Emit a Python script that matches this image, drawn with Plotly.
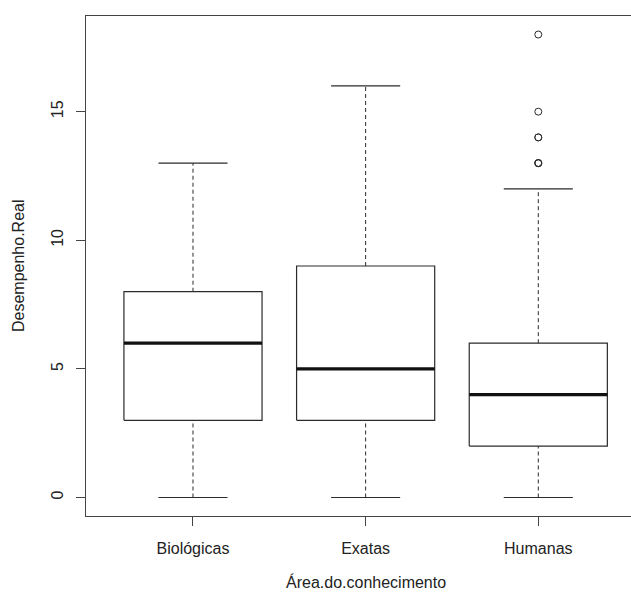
import plotly.graph_objects as go

categories = ["Biológicas", "Exatas", "Humanas"]
lower_whisker = [0, 0, 0]
q1 = [3, 3, 2]
median = [6, 5, 4]
q3 = [8, 9, 6]
upper_whisker = [13, 16, 12]
outliers = {"Humanas": [13, 13, 13, 14, 14, 15, 18]}
y_ticks = [0, 5, 10, 15]

BOX_HALF = 0.4
CAP_HALF = 0.2
LINE = "#2b2b2b"
FONT = "Liberation Sans, Arial, Helvetica, sans-serif"

fig = go.Figure()
for i, cat in enumerate(categories):
    x = i + 1
    # box
    fig.add_trace(go.Scatter(
        x=[x - BOX_HALF, x + BOX_HALF, x + BOX_HALF, x - BOX_HALF, x - BOX_HALF],
        y=[q1[i], q1[i], q3[i], q3[i], q1[i]],
        mode="lines", line=dict(color=LINE, width=1.2), hoverinfo="skip"))
    # median
    fig.add_trace(go.Scatter(
        x=[x - BOX_HALF, x + BOX_HALF], y=[median[i], median[i]],
        mode="lines", line=dict(color="#111111", width=3.2), hoverinfo="skip"))
    # whiskers (dashed)
    fig.add_trace(go.Scatter(
        x=[x, x], y=[q3[i], upper_whisker[i]],
        mode="lines", line=dict(color=LINE, width=1, dash="4px,3px"), hoverinfo="skip"))
    fig.add_trace(go.Scatter(
        x=[x, x], y=[lower_whisker[i], q1[i]],
        mode="lines", line=dict(color=LINE, width=1, dash="4px,3px"), hoverinfo="skip"))
    # caps
    for v in (upper_whisker[i], lower_whisker[i]):
        fig.add_trace(go.Scatter(
            x=[x - CAP_HALF, x + CAP_HALF], y=[v, v],
            mode="lines", line=dict(color=LINE, width=1.2), hoverinfo="skip"))
    # outliers
    if cat in outliers:
        pts = outliers[cat]
        fig.add_trace(go.Scatter(
            x=[x] * len(pts), y=pts, mode="markers",
            marker=dict(symbol="circle-open", size=7, color=LINE,
                        line=dict(width=1, color=LINE)),
            hoverinfo="skip"))

fig.update_layout(
    width=631, height=594,
    margin=dict(l=86, r=0, t=16, b=78),
    paper_bgcolor="white", plot_bgcolor="white",
    showlegend=False,
    font=dict(family=FONT, size=16, color="#222222"),
    xaxis=dict(
        range=[0.3803, 3.537], tickmode="array", tickvals=[1, 2, 3],
        ticktext=categories, showgrid=False, zeroline=False,
        showline=True, mirror=True, linecolor="#444444", linewidth=1.3,
        ticks="outside", ticklen=9, tickcolor="#444444", tickwidth=1,
        ticklabelstandoff=9,
    ),
    yaxis=dict(
        range=[-0.72, 18.72], tickmode="array", tickvals=y_ticks,
        ticktext=[str(t) for t in y_ticks], tickangle=-90,
        showgrid=False, zeroline=False,
        showline=True, mirror=False, linecolor="#444444", linewidth=1.3,
        ticks="outside", ticklen=9, tickcolor="#444444", tickwidth=1,
        ticklabelstandoff=6,
    ),
    annotations=[
        dict(text="Área.do.conhecimento", xref="paper", yref="paper",
             x=(365.7 - 86) / 545, y=(516 - 593) / 500,
             xanchor="center", yanchor="bottom", showarrow=False,
             font=dict(family=FONT, size=16, color="#222222")),
        dict(text="Desempenho.Real", xref="paper", yref="paper",
             x=(18 - 86) / 545, y=0.5, textangle=-90,
             xanchor="center", yanchor="middle", showarrow=False,
             font=dict(family=FONT, size=16, color="#222222")),
    ],
)

fig.write_html("out.html")
